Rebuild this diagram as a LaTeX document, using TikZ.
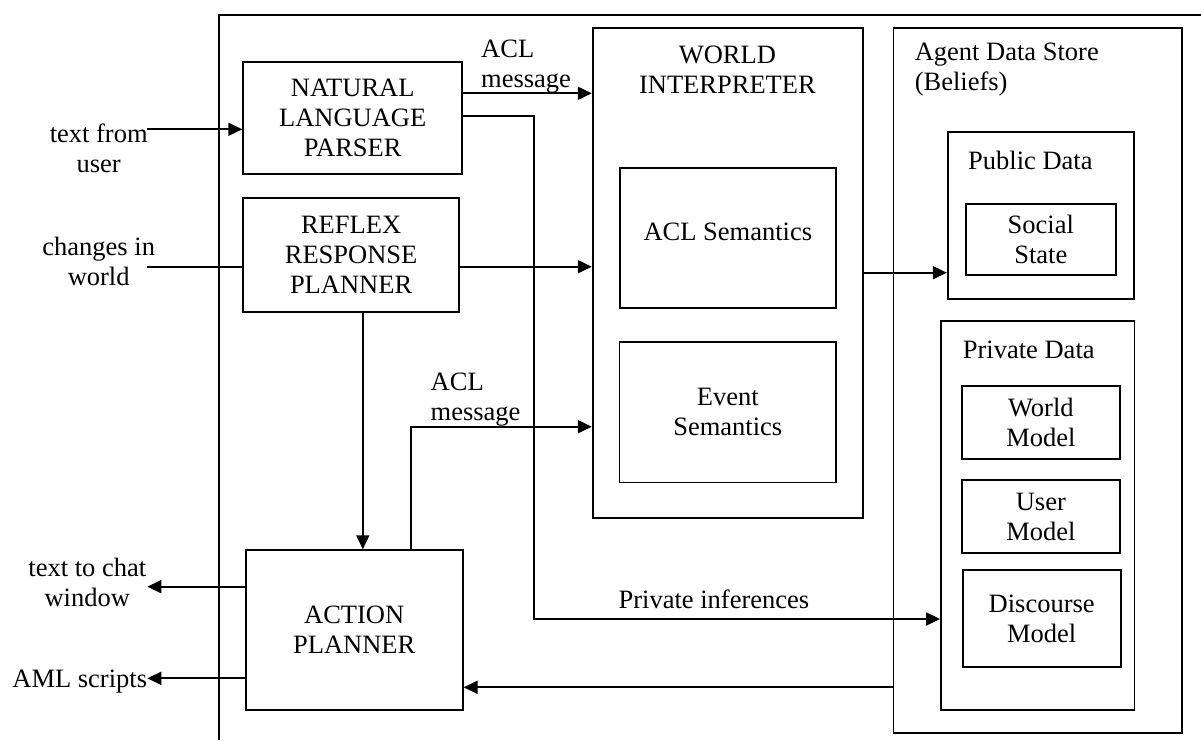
\documentclass[tikz,border=0pt]{standalone}
\usepackage{fontspec}
\setmainfont{Liberation Serif}
\usetikzlibrary{arrows.meta}
\begin{document}
\begin{tikzpicture}[x=1pt,y=-1pt,
  every node/.style={font=\fontsize{26.5}{30}\selectfont, inner sep=0pt},
  box/.style={draw, line width=1.8pt, align=center},
  lbl/.style={align=center},
  conn/.style={line width=1.8pt},
  arr/.style={conn, -{Triangle[length=14pt,width=13pt]}}]
\useasboundingbox (0,0) rectangle (1201,740);
\fill[white] (0,0) rectangle (1201,740);
% outer frame (partly off the page)
\draw[conn] (219,740) -- (219,15) -- (1201,15);

% left column
\node[box, minimum width=219pt, minimum height=112pt] (nlp) at (352.7,118.3) {NATURAL\\LANGUAGE\\PARSER};
\node[box, minimum width=216pt, minimum height=114pt] (reflex) at (351.1,254.7) {REFLEX\\RESPONSE\\PLANNER};
\node[box, minimum width=217pt, minimum height=160pt] (ap) at (354.2,630.2) {ACTION\\PLANNER};

% world interpreter
\node[box, minimum width=270pt, minimum height=490pt] (wi) at (727.7,272.6) {};
\node[lbl] (wit) at (727.4,69.5) {WORLD\\INTERPRETER};
\node[box, minimum width=216.3pt, minimum height=139.7pt, text depth=12pt] (acl) at (727.85,237.85) {ACL Semantics};
\node[box, minimum width=216.5pt, minimum height=140.2pt] (evs) at (727.8,412.4) {Event\\Semantics};

% agent data store
\node[box, minimum width=288.5pt, minimum height=704.7pt] (ads) at (1037.75,380.35) {};
\node[anchor=west, align=left] (adst) at (914.6,70) {Agent Data Store\\(Beliefs)};
\node[box, minimum width=186.6pt, minimum height=166.7pt] (pub) at (1041,215.65) {};
\node[anchor=west] (pubt) at (968,160) {Public Data};
\node[box, minimum width=149.7pt, minimum height=71.3pt] (soc) at (1040.85,239.35) {Social\\State};
\node[box, minimum width=193.5pt, minimum height=389pt] (prv) at (1037.75,515.5) {};
\node[anchor=west] (prvt) at (962.7,350) {Private Data};
\node[box, minimum width=158.3pt, minimum height=73pt] (wm) at (1040.85,422.5) {World\\Model};
\node[box, minimum width=158.3pt, minimum height=73.3pt] (um) at (1040.85,516.65) {User\\Model};
\node[box, minimum width=158pt, minimum height=97pt] (dm) at (1041.7,618.8) {Discourse\\Model};

% external inputs / outputs
\coordinate (tfu) at (147,129.3);
\draw[arr] (tfu) -- (tfu -| nlp.west);
\node[lbl] (tfut) at (98.7,148.2) {text from\\user};
\coordinate (ciw) at (147,266.7);
\draw[conn] (ciw) -- (ciw -| reflex.west);
\node[lbl] (ciwt) at (98.7,261.7) {changes in\\world};
\coordinate (tc) at (147.3,586.7);
\draw[arr] (ap.west |- tc) -- (tc);
\node[lbl] (tct) at (87.3,582.2) {text to chat\\window};
\coordinate (aml) at (147.3,678.3);
\draw[arr] (ap.west |- aml) -- (aml);
\node[anchor=east] (amlt) at (147.3,681.7) {AML scripts};

% internal connectors
\coordinate (r1) at (0,93.3);
\draw[arr] (nlp.east |- r1) -- (wi.west |- r1);
\node[anchor=west, align=left] (acl1) at (481,66.7) {ACL\\message};
\coordinate (r2) at (534,116);
\coordinate (r3) at (534,619);
\draw[arr] (nlp.east |- r2) -- (r2) -- (r3) -- (prv.west |- r3);
\node[anchor=west] (pinf) at (618.4,599.3) {Private inferences};
\coordinate (r4) at (0,266.7);
\draw[arr] (reflex.east |- r4) -- (wi.west |- r4);
\coordinate (c5) at (362.8,0);
\draw[arr] (reflex.south -| c5) -- (ap.north -| c5);
\coordinate (r6) at (410.6,426.7);
\draw[arr] (ap.north -| r6) -- (r6) -- (wi.west |- r6);
\node[anchor=west, align=left] (acl2) at (430.5,399.5) {ACL\\message};
\coordinate (r7) at (0,272.7);
\draw[arr] (wi.east |- r7) -- (pub.west |- r7);
\coordinate (r8) at (0,687.3);
\draw[arr] (ads.west |- r8) -- (ap.east |- r8);
\end{tikzpicture}
\end{document}
